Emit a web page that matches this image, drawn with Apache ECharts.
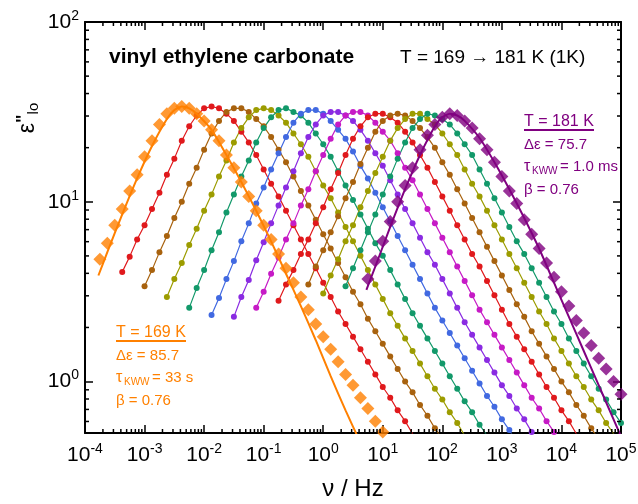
<!DOCTYPE html>
<html lang="en">
<head>
<meta charset="utf-8">
<title>vinyl ethylene carbonate</title>
<script src="https://cdn.jsdelivr.net/npm/echarts@6/dist/echarts.min.js"></script>
<style>
    html, body { margin: 0; padding: 0; background: #fff; }
    #main { width: 638px; height: 504px; }
</style>
</head>
<body>
<div id="main"></div>
<script type="text/javascript">
// measuring grid, log10(nu / Hz)
var logFreq = [-3.75,-3.625,-3.5,-3.375,-3.25,-3.125,-3,-2.875,-2.75,-2.625,-2.5,-2.375,-2.25,-2.125,-2,-1.875,
    -1.75,-1.625,-1.5,-1.375,-1.25,-1.125,-1,-0.875,-0.75,-0.625,-0.5,-0.375,-0.25,-0.125,0,0.125,0.25,0.375,0.5,
    0.625,0.75,0.875,1,1.125,1.25,1.375,1.5,1.625,1.75,1.875,2,2.125,2.25,2.375,2.5,2.625,2.75,2.875,3,3.125,3.25,
    3.375,3.5,3.625,3.75,3.875,4,4.125,4.25,4.375,4.5,4.625,4.75,4.875,5];

var temps = [169, 170, 171, 172, 173, 174, 175, 176, 177, 178, 179, 180, 181];
// index into logFreq of the first point of every temperature
var startIdx = [0, 3, 6, 9, 12, 15, 18, 21, 24, 28, 30, 33, 36];

// log10(eps'')
var eps169 = [0.68,0.77,0.87,0.96,1.06,1.15,1.25,1.34,1.43,1.49,1.52,1.53,1.52,1.49,1.45,1.40,1.34,1.26,1.19,1.11,1.03,0.95,0.87,0.79,0.71,0.63,0.55,0.47,0.40,0.32,0.25,0.18,0.11,0.04,-0.02,-0.09,-0.15,-0.22,-0.28,-0.35];
var eps170 = [0.61,0.695,0.79,0.87,0.96,1.05,1.15,1.24,1.34,1.42,1.48,1.52,1.53,1.52,1.49,1.45,1.39,1.33,1.26,1.18,1.10,1.03,0.95,0.87,0.79,0.71,0.63,0.55,0.47,0.39,0.32,0.25,0.18,0.11,0.04,-0.03,-0.09,-0.16,-0.22,-0.29,-0.35];
var eps171 = [0.53,0.62,0.72,0.81,0.91,1.00,1.10,1.19,1.29,1.38,1.45,1.50,1.52,1.52,1.50,1.46,1.42,1.36,1.29,1.22,1.14,1.06,0.98,0.90,0.82,0.74,0.66,0.58,0.50,0.43,0.35,0.28,0.21,0.14,0.07,0.00,-0.06,-0.13,-0.19,-0.26,-0.32];
var eps172 = [0.47,0.57,0.66,0.76,0.85,0.95,1.04,1.14,1.23,1.33,1.41,1.47,1.51,1.52,1.51,1.48,1.44,1.38,1.32,1.25,1.17,1.09,1.02,0.94,0.86,0.78,0.70,0.62,0.54,0.46,0.38,0.31,0.24,0.17,0.10,0.03,-0.04,-0.10,-0.17,-0.23,-0.30];
var eps173 = [0.41,0.52,0.62,0.73,0.83,0.94,1.04,1.14,1.23,1.33,1.41,1.47,1.51,1.52,1.50,1.48,1.44,1.38,1.32,1.25,1.17,1.09,1.01,0.93,0.85,0.77,0.70,0.62,0.54,0.46,0.38,0.31,0.24,0.17,0.10,0.03,-0.04,-0.11,-0.17,-0.24,-0.30];
var eps174 = [0.37,0.465,0.57,0.67,0.78,0.88,0.99,1.08,1.18,1.27,1.36,1.44,1.49,1.51,1.51,1.49,1.45,1.40,1.35,1.28,1.20,1.13,1.05,0.97,0.89,0.81,0.73,0.65,0.57,0.49,0.41,0.34,0.27,0.20,0.13,0.06,-0.01,-0.08,-0.14,-0.21,-0.27,-0.34];
var eps175 = [0.36,0.47,0.565,0.675,0.775,0.88,0.98,1.08,1.17,1.27,1.36,1.43,1.48,1.50,1.50,1.48,1.45,1.40,1.34,1.27,1.20,1.12,1.04,0.96,0.88,0.80,0.72,0.65,0.57,0.49,0.41,0.33,0.26,0.19,0.12,0.05,-0.02,-0.08,-0.15,-0.21,-0.28,-0.34];
var eps176 = [0.41,0.50,0.60,0.69,0.79,0.88,0.98,1.07,1.17,1.26,1.35,1.43,1.48,1.50,1.50,1.48,1.44,1.39,1.34,1.27,1.19,1.12,1.04,0.96,0.88,0.80,0.72,0.64,0.56,0.48,0.40,0.33,0.26,0.19,0.12,0.05,-0.02,-0.09,-0.15,-0.22,-0.28,-0.35];
var eps177 = [0.45,0.54,0.62,0.71,0.79,0.88,0.97,1.07,1.16,1.26,1.35,1.42,1.47,1.49,1.49,1.47,1.44,1.39,1.33,1.26,1.19,1.11,1.03,0.95,0.87,0.79,0.71,0.64,0.56,0.48,0.40,0.32,0.25,0.18,0.11,0.04,-0.03,-0.09,-0.16,-0.22,-0.29,-0.35];
var eps178 = [0.54,0.64,0.73,0.83,0.92,1.02,1.11,1.21,1.30,1.39,1.45,1.48,1.49,1.48,1.45,1.41,1.36,1.30,1.22,1.15,1.07,0.99,0.91,0.83,0.75,0.67,0.59,0.51,0.43,0.36,0.28,0.21,0.14,0.07,0.00,-0.06,-0.13,-0.19,-0.26,-0.32];
var eps179 = [0.49,0.59,0.68,0.78,0.87,0.97,1.06,1.16,1.25,1.34,1.41,1.46,1.49,1.49,1.46,1.43,1.38,1.32,1.26,1.18,1.10,1.03,0.95,0.87,0.79,0.71,0.63,0.55,0.47,0.39,0.32,0.24,0.17,0.10,0.03,-0.03,-0.10,-0.16,-0.23,-0.29,-0.36];
var eps180 = [0.53,0.63,0.73,0.83,0.93,1.04,1.14,1.24,1.33,1.41,1.46,1.49,1.48,1.46,1.43,1.38,1.32,1.26,1.18,1.10,1.02,0.94,0.86,0.78,0.71,0.63,0.55,0.47,0.39,0.32,0.24,0.17,0.10,0.03,-0.04,-0.10,-0.17,-0.23];
var eps181 = [0.57,0.67,0.78,0.89,1.00,1.09,1.19,1.29,1.37,1.43,1.47,1.49,1.48,1.45,1.41,1.35,1.29,1.22,1.14,1.06,0.99,0.90,0.82,0.74,0.66,0.58,0.50,0.42,0.34,0.27,0.20,0.13,0.07,0.00,-0.07];

// KWW fits (log10 nu, log10 eps'')
var fit169F = [-3.775,-3.625,-3.375,-3.125,-2.875,-2.625,-2.5,-2.375,-2.25,-2.125,-1.875,-1.625,-1.375,-1.125,-0.875,-0.625,-0.375,-0.125,0.125,0.375,0.625];
var fit169E = [0.59,0.72,0.93,1.13,1.31,1.46,1.51,1.53,1.52,1.49,1.40,1.26,1.11,0.95,0.78,0.60,0.42,0.23,0.03,-0.16,-0.34];
var fit181F = [0.725,0.875,1.125,1.375,1.625,1.875,2.0,2.125,2.25,2.375,2.625,2.875,3.125,3.375,3.625,3.875,4.125,4.375,4.625,4.875,5.125];
var fit181E = [0.51,0.64,0.86,1.07,1.26,1.42,1.47,1.49,1.48,1.45,1.355,1.22,1.07,0.91,0.74,0.55,0.36,0.17,-0.02,-0.21,-0.40];

var epsList = [eps169, eps170, eps171, eps172, eps173, eps174, eps175, eps176, eps177, eps178, eps179, eps180, eps181];
var colors = ['#FF8000', '#E0191C', '#A8620E', '#9C9C00', '#12996A', '#4169E1', '#8A2BE2',
              '#C61AC6', '#E0191C', '#A8620E', '#9C9C00', '#12996A', '#800080'];

var xMin = -4, xMax = 5, yMin = -0.286, yMax = 2;
var FONT = '"Liberation Sans", Arial, sans-serif';
var ORANGE = '#FF8000', PURPLE = '#800080';

var myChart = echarts.init(document.getElementById('main'), null, { renderer: 'canvas' });

function pairs(xs, ys) {
    var out = [];
    for (var i = 0; i < ys.length; i++) out.push([xs[i], ys[i]]);
    return out;
}

var series = [];
for (var t = 0; t < temps.length; t++) {
    var xs = logFreq.slice(startIdx[t], startIdx[t] + epsList[t].length);
    var diamond = (t === 0 || t === temps.length - 1);
    if (diamond) {
        series.push({
            name: temps[t] + ' K', type: 'scatter', data: pairs(xs, epsList[t]),
            symbol: 'diamond', symbolSize: 13, z: 4,
            itemStyle: { color: colors[t] }
        });
    } else {
        series.push({
            name: temps[t] + ' K', type: 'line', data: pairs(xs, epsList[t]),
            symbol: 'circle', symbolSize: 6, showSymbol: true, z: 3,
            lineStyle: { color: colors[t], width: 1.2 },
            itemStyle: { color: colors[t], borderWidth: 0 }
        });
    }
}
series.push({
    name: 'KWW 169', type: 'line', data: pairs(fit169F, fit169E), showSymbol: false, smooth: 0.2, z: 5,
    lineStyle: { color: ORANGE, width: 2 }
});
series.push({
    name: 'KWW 181', type: 'line', data: pairs(fit181F, fit181E), showSymbol: false, smooth: 0.2, z: 5,
    lineStyle: { color: PURPLE, width: 2 }
});

// minor ticks (log spacing), drawn on all four sides
var minorX = [], minorY = [];
for (var d = -4; d < 5; d++) {
    for (var k = 2; k <= 9; k++) minorX.push([d + Math.log10(k), yMin]);
}
for (var d2 = -1; d2 < 2; d2++) {
    for (var k2 = 2; k2 <= 9; k2++) {
        var v = d2 + Math.log10(k2);
        if (v > yMin) minorY.push([xMin, v]);
    }
}
function tickStyle() { return { stroke: '#000', lineWidth: 1.5 }; }
series.push({
    type: 'custom', data: minorX, z: 10, silent: true,
    renderItem: function (params, api) {
        var cs = params.coordSys;
        var p = api.coord([api.value(0), yMin]);
        var b = cs.y + cs.height;
        return { type: 'group', children: [
            { type: 'line', shape: { x1: p[0], y1: b, x2: p[0], y2: b - 4 }, style: tickStyle() },
            { type: 'line', shape: { x1: p[0], y1: cs.y, x2: p[0], y2: cs.y + 4 }, style: tickStyle() }
        ] };
    }
});
series.push({
    type: 'custom', data: minorY, z: 10, silent: true,
    renderItem: function (params, api) {
        var cs = params.coordSys;
        var p = api.coord([xMin, api.value(1)]);
        var r = cs.x + cs.width;
        return { type: 'group', children: [
            { type: 'line', shape: { x1: cs.x, y1: p[1], x2: cs.x + 4, y2: p[1] }, style: tickStyle() },
            { type: 'line', shape: { x1: r, y1: p[1], x2: r - 4, y2: p[1] }, style: tickStyle() }
        ] };
    }
});

function powLabel(v) {
    var n = Math.round(v);
    if (Math.abs(v - n) > 1e-6) return '';
    return '{b|10}{s|' + n + '}';
}
var labelRich = {
    b: { fontSize: 21, fontFamily: FONT, color: '#000', lineHeight: 26, verticalAlign: 'middle' },
    s: { fontSize: 14, fontFamily: FONT, color: '#000', lineHeight: 14, verticalAlign: 'top' }
};
var axLine = { show: true, onZero: false, lineStyle: { color: '#000', width: 2 } };
var axTick = { show: true, inside: true, length: 8, lineStyle: { color: '#000', width: 1.5 } };

function txt(x, y, text, color, size, bold) {
    return {
        type: 'text', x: x, y: y, z: 100,
        style: {
            text: text, fill: color, textAlign: 'left', textVerticalAlign: 'middle',
            font: (bold ? 'bold ' : '') + size + 'px ' + FONT
        }
    };
}
function uline(x1, x2, y, color) {
    return { type: 'line', z: 100, shape: { x1: x1, y1: y, x2: x2, y2: y }, style: { stroke: color, lineWidth: 2 } };
}
// Annotation block: underlined temperature, then Delta eps, tau_KWW, beta
function block(x, y, lines, color) {
    return [
        txt(x, y, lines[0], color, 16),
        uline(x, x + 70, y + 8, color),
        txt(x, y + 23, lines[1], color, 15),
        txt(x, y + 45, 'τ', color, 16),
        txt(x + 8, y + 49, 'KWW', color, 10),
        txt(x + 36, y + 45, lines[2], color, 15),
        txt(x, y + 68, lines[3], color, 15)
    ];
}

myChart.setOption({
    animation: false,
    backgroundColor: '#fff',
    grid: { left: 85, right: 17, top: 22, bottom: 71, containLabel: false, outerBoundsMode: 'none' },
    xAxis: [{
        type: 'value', min: xMin, max: xMax, interval: 1, position: 'bottom',
        axisLine: axLine, axisTick: axTick, splitLine: { show: false },
        axisLabel: { margin: 9, formatter: powLabel, rich: labelRich },
        name: 'ν / Hz', nameLocation: 'middle', nameGap: 44,
        nameTextStyle: { fontSize: 24, fontFamily: FONT, color: '#000' }
    }, {
        type: 'value', min: xMin, max: xMax, interval: 1, position: 'top',
        axisLine: axLine, axisTick: axTick, splitLine: { show: false }, axisLabel: { show: false }
    }],
    yAxis: [{
        type: 'value', min: yMin, max: yMax, splitNumber: 2, position: 'left',
        axisLine: axLine, axisTick: axTick, splitLine: { show: false },
        axisLabel: { margin: 6, formatter: powLabel, rich: labelRich, showMinLabel: false }
    }, {
        type: 'value', min: yMin, max: yMax, splitNumber: 2, position: 'right',
        axisLine: axLine, axisTick: axTick, splitLine: { show: false }, axisLabel: { show: false }
    }],
    series: series,
    graphic: [
        txt(109, 57, 'vinyl ethylene carbonate', '#000', 21, true),
        txt(400, 58, 'T = 169 → 181 K (1K)', '#000', 19, false),
        {
            type: 'text', x: 28, y: 118, rotation: Math.PI / 2, z: 100,
            style: {
                text: '{e|ε}{p|"}{s|lo}', textAlign: 'center', textVerticalAlign: 'middle',
                rich: {
                    e: { fontSize: 23, fontFamily: FONT, color: '#000', lineHeight: 26, verticalAlign: 'middle' },
                    p: { fontSize: 18, fontFamily: FONT, fontWeight: 'bold', color: '#000', lineHeight: 14, verticalAlign: 'top' },
                    s: { fontSize: 15, fontFamily: FONT, color: '#000', lineHeight: 14, verticalAlign: 'bottom' }
                }
            }
        }
    ].concat(
        block(116, 333, ['T = 169 K', 'Δε = 85.7', '= 33 s', 'β = 0.76'], ORANGE),
        block(524, 122, ['T = 181 K', 'Δε = 75.7', '= 1.0 ms', 'β = 0.76'], PURPLE)
    )
});
</script>
</body>
</html>
